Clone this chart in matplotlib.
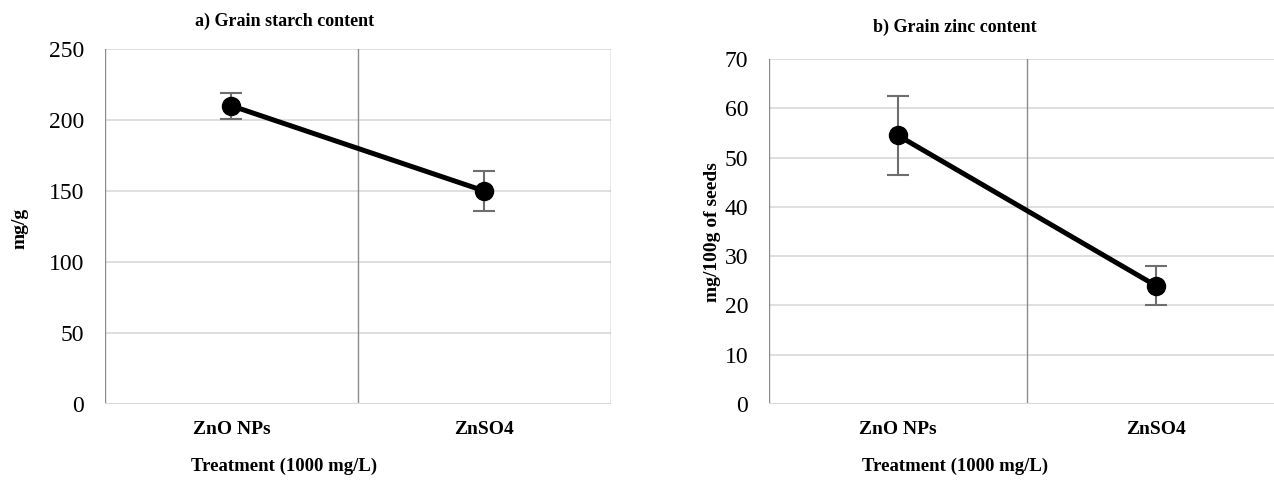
import numpy as np
from matplotlib import pyplot as plt

plt.rcParams['font.family'] = ['Liberation Serif', 'DejaVu Serif']

# Data
treatments = ['ZnO NPs', 'ZnSO4']
starch = [210, 150]
starch_err = [9, 14]
zinc = [54.5, 24]
zinc_err = [8, 4]

fig = plt.figure(figsize=(12.74, 4.83), dpi=100)
ax1 = fig.add_axes([0.0824, 0.1636, 0.397, 0.735])
ax2 = fig.add_axes([0.6036, 0.1636, 0.405, 0.714])


def draw(ax, vals, errs, ymax, step):
    x = np.arange(len(vals))
    ax.set_xlim(-0.5, len(vals) - 0.5)
    ax.set_ylim(0, ymax)
    ax.set_yticks(np.arange(0, ymax + step, step))
    for yv in np.arange(step, ymax + step, step):
        ax.axhline(yv, color='#d9d9d9', lw=1.2, zorder=0)
    for xv in np.arange(-0.5, len(vals), 1.0):
        ax.axvline(xv, color='#8c8c8c', lw=1.0, zorder=0)
    ax.axhline(0, color='#d9d9d9', lw=1.5, zorder=0)
    for s in ax.spines.values():
        s.set_visible(False)
    ax.errorbar(x, vals, yerr=errs, fmt='none', ecolor='#6e6e6e',
                elinewidth=1.5, capsize=8, capthick=1.5, zorder=2)
    ax.plot(x, vals, '-o', color='black', lw=3.6, markersize=13, zorder=3)
    ax.set_xticks(x)
    ax.set_xticklabels(treatments, fontsize=14, fontweight='bold')
    ax.tick_params(axis='both', length=0)
    ax.tick_params(axis='y', labelsize=17, pad=15)
    ax.tick_params(axis='x', pad=12)


draw(ax1, starch, starch_err, 250, 50)
draw(ax2, zinc, zinc_err, 70, 10)

fig.text(285 / 1274, 1 - 21 / 483, 'a) Grain starch content', ha='center', va='center',
         fontsize=13, fontweight='bold')
fig.text(955 / 1274, 1 - 27 / 483, 'b) Grain zinc content', ha='center', va='center',
         fontsize=13, fontweight='bold')
fig.text(284 / 1274, 1 - 466 / 483, 'Treatment (1000 mg/L)', ha='center', va='center',
         fontsize=13.5, fontweight='bold')
fig.text(955 / 1274, 1 - 466 / 483, 'Treatment (1000 mg/L)', ha='center', va='center',
         fontsize=13.5, fontweight='bold')
fig.text(20 / 1274, 1 - 228 / 483, 'mg/g', ha='center', va='center', rotation=90,
         fontsize=14, fontweight='bold')
fig.text(713 / 1274, 1 - 232 / 483, 'mg/100g of seeds', ha='center', va='center',
         rotation=90, fontsize=14, fontweight='bold')

fig.savefig('out.png', dpi=100)
